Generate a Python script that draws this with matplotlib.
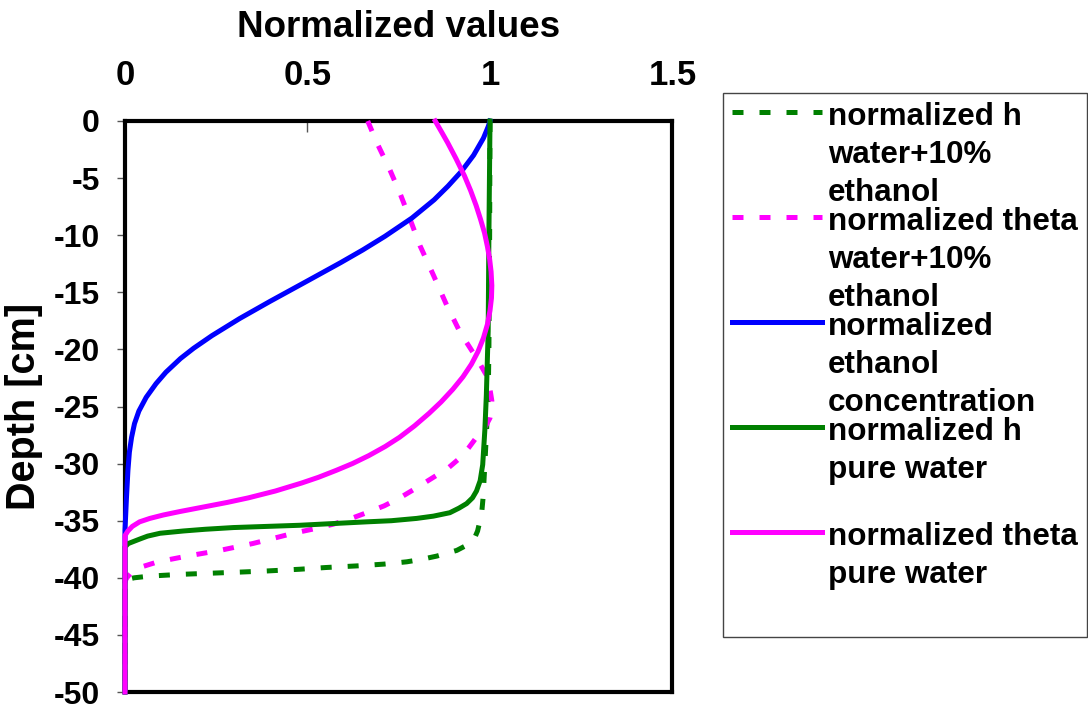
import numpy as np
import matplotlib
matplotlib.use("Agg")
import matplotlib.pyplot as plt
from matplotlib.lines import Line2D
from matplotlib.font_manager import FontProperties
from matplotlib.legend_handler import HandlerLine2D

plt.rcParams['font.family'] = ['Liberation Sans', 'DejaVu Sans']
plt.rcParams['font.weight'] = 'bold'
plt.rcParams['axes.unicode_minus'] = False

# ---- profiles: normalized value vs depth [cm] ----
h_eth_depth = [0, -10, -20, -24.3, -30, -33, -34.4, -35.9, -36.5, -37.0, -37.6, -38.1,
               -38.4, -38.6, -38.8, -38.95, -39.1, -39.25, -39.4, -39.5, -39.6, -39.7,
               -39.85, -40.0, -40.2, -50]
h_eth_value = [1.0, 0.999, 0.997, 0.995, 0.986, 0.981, 0.977, 0.966, 0.958, 0.945, 0.909,
               0.854, 0.81, 0.772, 0.71, 0.64, 0.55, 0.479, 0.39, 0.315, 0.233, 0.151,
               0.068, 0.025, 0.0, 0.0]

theta_eth_depth = [0, -1.9, -4.3, -6.3, -8.6, -10.9, -13.5, -16.1, -18.5, -20.8, -22.3,
                   -23.5, -24.5, -25.3, -26.0, -26.9, -27.7, -28.6, -29.5, -30.4, -31.2,
                   -32.1, -33.0, -33.7, -34.3, -34.8, -35.3, -35.7, -36.1, -36.6, -37.0,
                   -37.6, -38.1, -38.6, -39.1, -39.5, -40.0, -40.3, -50]
theta_eth_value = [0.665, 0.690, 0.726, 0.753, 0.781, 0.808, 0.845, 0.881, 0.918, 0.964,
                   0.991, 1.0, 1.005, 1.004, 1.0, 0.985, 0.963, 0.942, 0.918, 0.885,
                   0.845, 0.80, 0.753, 0.71, 0.662, 0.62, 0.571, 0.52, 0.461, 0.40,
                   0.35, 0.26, 0.17, 0.09, 0.04, 0.018, 0.005, 0.0, 0.0]

conc_depth = [0, -0.5, -1.5, -3.0, -4.4, -5.7, -6.9, -8.5, -10.1, -11.3, -12.4, -14.0,
              -15.8, -17.3, -18.8, -19.9, -20.8, -22.0, -23.0, -24.2, -25.4, -26.5,
              -27.7, -29.0, -30.6, -33.0, -35.8, -50]
conc_value = [1.0, 0.995, 0.982, 0.955, 0.922, 0.885, 0.847, 0.786, 0.712, 0.651, 0.591,
              0.500, 0.397, 0.314, 0.238, 0.188, 0.152, 0.112, 0.085, 0.058, 0.038, 0.026,
              0.018, 0.012, 0.008, 0.004, 0.0, 0.0]

h_water_depth = [0, -10, -18.4, -24, -27, -30.1, -31.5, -32.4, -33.0, -33.5, -33.9,
                 -34.3, -34.6, -34.8, -35.0, -35.1, -35.25, -35.4, -35.6, -35.75, -35.9,
                 -36.1, -36.35, -36.6, -37.0, -37.3, -50]
h_water_value = [1.0, 0.997, 0.995, 0.99, 0.986, 0.98, 0.973, 0.963, 0.952, 0.936, 0.915,
                 0.890, 0.845, 0.799, 0.73, 0.662, 0.57, 0.479, 0.297, 0.22, 0.160,
                 0.096, 0.062, 0.041, 0.009, 0.0, 0.0]

theta_water_depth = [0, -1.0, -1.9, -3.3, -4.8, -6.1, -7.4, -8.6, -9.8, -11.0, -12.1,
                     -13.2, -14.4, -15.5, -16.6, -17.8, -19.0, -20.2, -21.3, -22.4, -23.5,
                     -24.6, -25.6, -26.7, -27.7, -28.5, -29.3, -30.0, -30.6, -31.2, -31.7,
                     -32.4, -33.0, -33.4, -33.8, -34.2, -34.5, -34.8, -35.1, -35.5, -35.9,
                     -36.3, -50]
theta_water_value = [0.85, 0.868, 0.884, 0.907, 0.930, 0.947, 0.962, 0.974, 0.985, 0.993,
                     0.999, 1.003, 1.005, 1.004, 1.0, 0.993, 0.982, 0.967, 0.949, 0.926,
                     0.898, 0.866, 0.833, 0.793, 0.752, 0.713, 0.668, 0.623, 0.578, 0.53,
                     0.484, 0.412, 0.338, 0.28, 0.215, 0.15, 0.105, 0.068, 0.04, 0.02,
                     0.008, 0.0, 0.0]

labels = [
    "normalized h\nwater+10%\nethanol",
    "normalized theta\nwater+10%\nethanol",
    "normalized\nethanol\nconcentration",
    "normalized h\npure water\n",
    "normalized theta\npure water\n",
]
colors = ["#008000", "#FF00FF", "#0000FF", "#008000", "#FF00FF"]
dashed = [True, True, False, False, False]

x_ticks = [0, 0.5, 1, 1.5]
x_tick_labels = ["0", "0.5", "1", "1.5"]
y_ticks = [0, -5, -10, -15, -20, -25, -30, -35, -40, -45, -50]
y_tick_labels = ["0", "-5", "-10", "-15", "-20", "-25", "-30", "-35", "-40", "-45", "-50"]

# ---- figure ----
W, H = 1088, 710
fig = plt.figure(figsize=(W / 100, H / 100), dpi=100)
ax = fig.add_axes([125 / W, 1 - 692 / H, 547.5 / W, 571 / H])

profiles = [
    (h_eth_value, h_eth_depth),
    (theta_eth_value, theta_eth_depth),
    (conc_value, conc_depth),
    (h_water_value, h_water_depth),
    (theta_water_value, theta_water_depth),
]
for (vals, dep), lab, col, dsh in zip(profiles, labels, colors, dashed):
    kw = dict(color=col, lw=3.6, label=lab, clip_on=False, zorder=3,
              solid_joinstyle='round')
    if dsh:
        kw.update(dashes=(2.2, 3.2), dash_capstyle='butt', dash_joinstyle='round')
    ax.plot(vals, dep, **kw)

ax.set_xlim(0, 1.5)
ax.set_ylim(-50, 0)
ax.xaxis.tick_top()
ax.xaxis.set_label_position('top')
ax.set_xticks(x_ticks, x_tick_labels)
ax.set_yticks(y_ticks, y_tick_labels)
ax.tick_params(axis='x', direction='in', length=8, width=1, color='#555555',
               pad=21, labelsize=25)
ax.tick_params(axis='y', direction='out', length=6, width=1, color='#555555',
               pad=12, labelsize=23)
for lbl in ax.get_xticklabels() + ax.get_yticklabels():
    lbl.set_fontweight('bold')

ax.set_xlabel("Normalized values", fontsize=26.5, fontweight='bold', labelpad=16)
ax.set_ylabel("Depth [cm]", fontsize=28.5, fontweight='bold', labelpad=8)

for sp in ax.spines.values():
    sp.set_linewidth(3.0)
    sp.set_color('black')
    sp.set_zorder(2)

# ---- legend: handle sits level with the first line of each label ----
LEG_FS = 22.6
leg_font = FontProperties(family=['Liberation Sans', 'DejaVu Sans'], weight='bold',
                          size=LEG_FS)
renderer = fig.canvas.get_renderer()
_, lp_h, lp_d = renderer.get_text_width_height_descent("lp", leg_font, ismath=False)
px2pt = 72 / fig.dpi
lp_h *= px2pt
lp_d *= px2pt
pitch = 38 * px2pt
line_spacing = (pitch - lp_d) / (lp_h - lp_d)


class FirstLineHandler(HandlerLine2D):
    def create_artists(self, legend, orig_handle, xdescent, ydescent, width, height,
                       fontsize, trans):
        artists = super().create_artists(legend, orig_handle, xdescent, ydescent,
                                         width, height, fontsize, trans)
        n = orig_handle.get_label().count("\n") + 1
        shift = (n - 1) * pitch / 2 + 0.5 * lp_d + 0.06 * fontsize
        for a in artists:
            a.set_ydata(np.asarray(a.get_ydata(), dtype=float) + shift)
        return artists


leg = ax.legend(loc='upper left', bbox_to_anchor=(723 / W, 1 - 93 / H),
                bbox_transform=fig.transFigure, prop=leg_font,
                handlelength=2.87, handletextpad=0.19, borderpad=0.28,
                borderaxespad=0, labelspacing=-0.03, frameon=True, fancybox=False,
                edgecolor='#444444', framealpha=1,
                handler_map={Line2D: FirstLineHandler()})
leg.get_frame().set_linewidth(1.0)
for t in leg.get_texts():
    t.set_linespacing(line_spacing)

fig.savefig("out.png", dpi=100)
